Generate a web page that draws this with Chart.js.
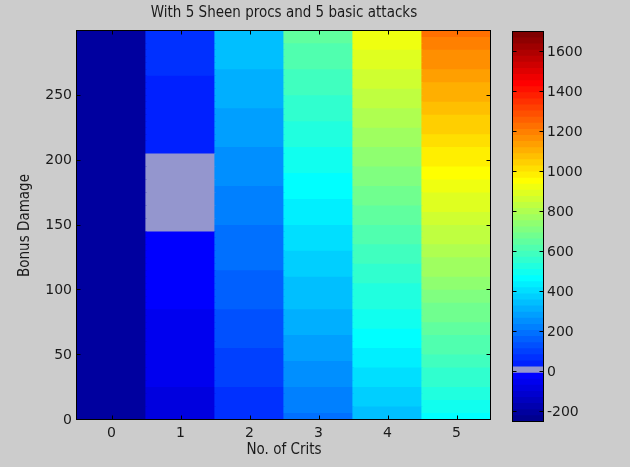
<!DOCTYPE html>
<html><head><meta charset="utf-8">
<script src="https://cdn.jsdelivr.net/npm/chart.js@4.4.1/dist/chart.umd.min.js"></script>
<style>
html,body{margin:0;padding:0;background:#cccccc;}
#wrap{position:relative;width:630px;height:467px;overflow:hidden;background:#cccccc;}
#main{position:absolute;left:0;top:0;}
#cbar{position:absolute;left:490px;top:0;}
</style></head><body>
<div id="wrap">
<canvas id="main" width="630" height="467"></canvas>
<canvas id="cbar" width="140" height="467"></canvas>
</div>
<script>
// ---------- data ----------
const titleText = 'With 5 Sheen procs and 5 basic attacks';
const xLabel = 'No. of Crits';
const yLabel = 'Bonus Damage';
const crits = ['0', '1', '2', '3', '4', '5'];
const rowHeight = 5;
const bonusDamage = [0,5,10,15,20,25,30,35,40,45,50,55,60,65,70,75,80,85,90,95,
  100,105,110,115,120,125,130,135,140,145,150,155,160,165,170,175,180,185,190,195,
  200,205,210,215,220,225,230,235,240,245,250,255,260,265,270,275,280,285,290,295];
const crit0 = [-218,-218,-218,-218,-218,-218,-218,-218,-218,-218,
  -218,-218,-218,-218,-218,-218,-218,-218,-218,-218,
  -218,-218,-218,-218,-218,-218,-218,-218,-218,-218,
  -218,-218,-218,-218,-218,-218,-218,-218,-218,-218,
  -218,-218,-218,-218,-218,-218,-218,-218,-218,-218,
  -218,-218,-218,-218,-218,-218,-218,-218,-218,-218];
const crit1 = [-78,-75,-73,-70,-68,-65,-63,-60,-58,-55,
  -53,-50,-48,-45,-43,-40,-38,-35,-33,-30,
  -28,-25,-23,-20,-18,-15,-13,-10,-8,-5,
  -3,0,2,5,7,10,12,15,17,20,
  22,25,27,30,32,35,37,40,42,45,
  47,50,52,55,57,60,62,65,67,70];
const crit2 = [62,67,72,77,82,87,92,97,102,107,
  112,117,122,127,132,137,142,147,152,157,
  162,167,172,177,182,187,192,197,202,207,
  212,217,222,227,232,237,242,247,252,257,
  262,267,272,277,282,287,292,297,302,307,
  312,317,322,327,332,337,342,347,352,357];
const crit3 = [202,209,217,224,232,239,247,254,262,269,
  277,284,292,299,307,314,322,329,337,344,
  352,359,367,374,382,389,397,404,412,419,
  427,434,442,449,457,464,472,479,487,494,
  502,509,517,524,532,539,547,554,562,569,
  577,584,592,599,607,614,622,629,637,644];
const crit4 = [342,352,362,372,382,392,402,412,422,432,
  442,452,462,472,482,492,502,512,522,532,
  542,552,562,572,582,592,602,612,622,632,
  642,652,662,672,682,692,702,712,722,732,
  742,752,762,772,782,792,802,812,822,832,
  842,852,862,872,882,892,902,912,922,932];
const crit5 = [481,494,506,519,531,544,556,569,581,594,
  606,619,631,644,656,669,681,694,706,719,
  731,744,756,769,781,794,806,819,831,844,
  856,869,881,894,906,919,931,944,956,969,
  981,994,1006,1019,1031,1044,1056,1069,1081,1094,
  1106,1119,1131,1144,1156,1169,1181,1194,1206,1219];
const yTicks = [0, 50, 100, 150, 200, 250];
const yRange = [0, 300];
const cbarTicks = [-200, 0, 200, 400, 600, 800, 1000, 1200, 1400, 1600];
const cLimits = [-250, 1700];

// ---------- styling ----------
const values = [crit0, crit1, crit2, crit3, crit4, crit5];
const NCOL = 64;
const HILITE_INDEX = 9;           // colormap entry shown in grey
const HILITE_COLOR = 'rgb(148,150,206)';
const textColor = '#1a1a1a';
const tickFont = {family: 'DejaVu Sans', size: 14};
const labelFont = {family: 'DejaVu Sans Condensed', size: 15};

function jetColor(k) { // k = 1..64, MATLAB jet(64)
  if (k === HILITE_INDEX) return HILITE_COLOR;
  const r = k <= 24 ? 0 : k <= 40 ? (k - 24) / 16 : k <= 55 ? 1 : (72 - k) / 16;
  const g = k <= 8 ? 0 : k <= 24 ? (k - 8) / 16 : k <= 39 ? 1 : k <= 55 ? (56 - k) / 16 : 0;
  const b = k <= 8 ? (k + 8) / 16 : k <= 23 ? 1 : k <= 39 ? (40 - k) / 16 : 0;
  return 'rgb(' + Math.round(r * 255) + ',' + Math.round(g * 255) + ',' + Math.round(b * 255) + ')';
}
function colorFor(v) {
  let k = Math.floor((v - cLimits[0]) / (cLimits[1] - cLimits[0]) * NCOL) + 1;
  k = Math.max(1, Math.min(NCOL, k));
  return jetColor(k);
}

const frameTicks = (id, drawX, drawY, title) => ({
  id: id,
  afterDraw(chart) {
    const {ctx, chartArea: a} = chart;
    const L = Math.round(a.left) - 0.5, R = Math.round(a.right) - 0.5;
    const T = Math.round(a.top) - 0.5, B = Math.round(a.bottom) - 0.5;
    ctx.save();
    ctx.strokeStyle = '#000';
    ctx.lineWidth = 1;
    ctx.strokeRect(L, T, R - L, B - T);
    ctx.beginPath();
    const len = 4;
    if (drawX) {
      const xs = chart.scales.x;
      xs.ticks.forEach((t, i) => {
        const px = Math.round(xs.getPixelForTick(i)) + 0.5;
        ctx.moveTo(px, B); ctx.lineTo(px, B - len);
        ctx.moveTo(px, T); ctx.lineTo(px, T + len);
      });
    }
    if (drawY) {
      const ys = chart.scales.y;
      ys.ticks.forEach(t => {
        const py = Math.round(ys.getPixelForValue(t.value)) - 0.5;
        ctx.moveTo(L, py); ctx.lineTo(L + len, py);
        ctx.moveTo(R, py); ctx.lineTo(R - len, py);
      });
    }
    ctx.stroke();
    if (title) {
      ctx.fillStyle = textColor;
      ctx.font = labelFont.size + 'px "' + labelFont.family + '"';
      ctx.textAlign = 'center';
      ctx.textBaseline = 'middle';
      ctx.fillText(title, (a.left + a.right) / 2, 13);
    }
    ctx.restore();
  }
});

// ---------- main heatmap ----------
const datasets = bonusDamage.map((y0, r) => ({
  data: crits.map(() => [y0, y0 + rowHeight]),
  backgroundColor: crits.map((c, ci) => colorFor(values[ci][r])),
  borderWidth: 0,
  inflateAmount: 0.6,
  barPercentage: 1,
  categoryPercentage: 1,
  grouped: false
}));

new Chart(document.getElementById('main'), {
  type: 'bar',
  data: {labels: crits, datasets: datasets},
  options: {
    responsive: false,
    animation: false,
    layout: {padding: {left: 0, right: 139, top: 31, bottom: 0}},
    plugins: {legend: {display: false}, tooltip: {enabled: false}, title: {display: false}},
    scales: {
      x: {
        type: 'category', offset: true,
        grid: {display: false, drawTicks: false}, border: {display: false},
        ticks: {font: tickFont, color: textColor, padding: 5, maxRotation: 0},
        title: {display: true, text: xLabel, font: labelFont, color: textColor, padding: {top: 0, bottom: 8}},
        afterFit(s) { s.height = 47; }
      },
      y: {
        type: 'linear', min: yRange[0], max: yRange[1],
        grid: {display: false, drawTicks: false}, border: {display: false},
        ticks: {font: tickFont, color: textColor, padding: 5, callback: v => String(v)},
        afterBuildTicks(s) { s.ticks = yTicks.map(v => ({value: v})); },
        title: {display: true, text: yLabel, font: labelFont, color: textColor, padding: {top: 16, bottom: 0}},
        afterFit(s) { s.width = 77; }
      }
    }
  },
  plugins: [frameTicks('mainFrame', true, true, titleText)]
});

// ---------- colorbar ----------
const cbarSets = [];
const step = (cLimits[1] - cLimits[0]) / NCOL;
for (let k = 1; k <= NCOL; k++) {
  cbarSets.push({
    data: [[cLimits[0] + (k - 1) * step, cLimits[0] + k * step]],
    backgroundColor: jetColor(k),
    borderWidth: 0, inflateAmount: 0.6, barPercentage: 1, categoryPercentage: 1, grouped: false
  });
}
new Chart(document.getElementById('cbar'), {
  type: 'bar',
  data: {labels: [''], datasets: cbarSets},
  options: {
    responsive: false,
    animation: false,
    layout: {padding: {left: 23, right: 0, top: 32, bottom: 45}},
    plugins: {legend: {display: false}, tooltip: {enabled: false}},
    scales: {
      x: {display: false},
      y: {
        type: 'linear', position: 'right', min: cLimits[0], max: cLimits[1],
        grid: {display: false, drawTicks: false}, border: {display: false},
        ticks: {font: tickFont, color: textColor, padding: 3, callback: v => String(v)},
        afterBuildTicks(s) { s.ticks = cbarTicks.map(v => ({value: v})); },
        afterFit(s) { s.width = 86; }
      }
    }
  },
  plugins: [frameTicks('cbarFrame', false, true, null)]
});
</script>
</body></html>
